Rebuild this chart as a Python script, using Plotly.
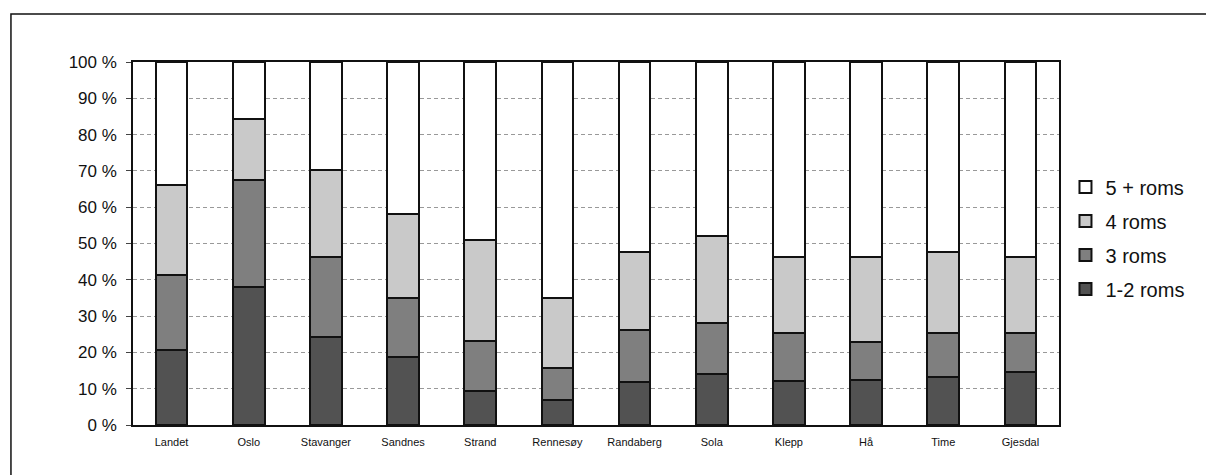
import plotly.graph_objects as go

# Municipalities / regions on the x axis
kommuner = ["Landet", "Oslo", "Stavanger", "Sandnes", "Strand", "Rennesøy",
            "Randaberg", "Sola", "Klepp", "Hå", "Time", "Gjesdal"]

# Share of dwellings by number of rooms (percent)
roms_1_2 = [20.7, 37.9, 24.2, 18.8, 9.4, 6.9, 11.8, 14.0, 12.1, 12.4, 13.3, 14.5]
roms_3 = [20.6, 29.6, 22.2, 16.3, 13.8, 8.7, 14.4, 14.0, 13.2, 10.6, 12.0, 10.8]
roms_4 = [24.8, 16.8, 23.8, 22.9, 27.8, 19.3, 21.4, 24.1, 21.1, 23.2, 22.4, 20.9]
roms_5 = [33.9, 15.7, 29.8, 42.0, 49.0, 65.1, 52.4, 47.9, 53.6, 53.8, 52.3, 53.8]

series = [
    ("1-2 roms", roms_1_2, "#525252"),
    ("3 roms", roms_3, "#7f7f7f"),
    ("4 roms", roms_4, "#c9c9c9"),
    ("5 + roms", roms_5, "#ffffff"),
]

y_ticks = list(range(0, 101, 10))
y_tick_text = [f"{v} %" for v in y_ticks]

fig = go.Figure()
for i, (name, vals, col) in enumerate(series):
    fig.add_trace(go.Bar(
        x=kommuner, y=vals, name=name,
        marker=dict(color=col, line=dict(color="#111111", width=2)),
        width=0.41, legendgroup=f"g{i}", legendrank=len(series) - i,
    ))

fig.update_layout(
    barmode="stack",
    width=1206, height=475,
    margin=dict(l=133, r=147, t=62, b=50),
    paper_bgcolor="white", plot_bgcolor="white",
    font=dict(family="Liberation Sans, Arial, sans-serif", color="#111111"),
    showlegend=True,
    legend=dict(
        traceorder="grouped", tracegroupgap=5,
        x=1.007, xanchor="left", y=0.515, yanchor="middle",
        font=dict(size=20, color="#111111"),
        itemwidth=30, bgcolor="rgba(0,0,0,0)",
    ),
    xaxis=dict(
        showline=True, linecolor="#111111", linewidth=1.5, mirror=True,
        ticks="", showgrid=False, ticklabelstandoff=6,
        tickfont=dict(size=11, color="#111111"),
    ),
    yaxis=dict(
        range=[0, 100], tickvals=y_ticks, ticktext=y_tick_text,
        showline=True, linecolor="#111111", linewidth=1.5, mirror=True,
        ticks="outside", ticklen=5, tickcolor="#444444",
        ticklabelstandoff=6,
        showgrid=True, gridcolor="#999999", gridwidth=1, griddash="4px,3px",
        tickfont=dict(size=17, color="#111111"),
        zeroline=False,
    ),
    shapes=[dict(
        type="rect", xref="paper", yref="paper",
        x0=-0.1318, x1=1.3, y0=-0.3, y1=1.132,
        line=dict(color="#111111", width=1.5), layer="below",
    )],
)

fig.write_html("out.html")
